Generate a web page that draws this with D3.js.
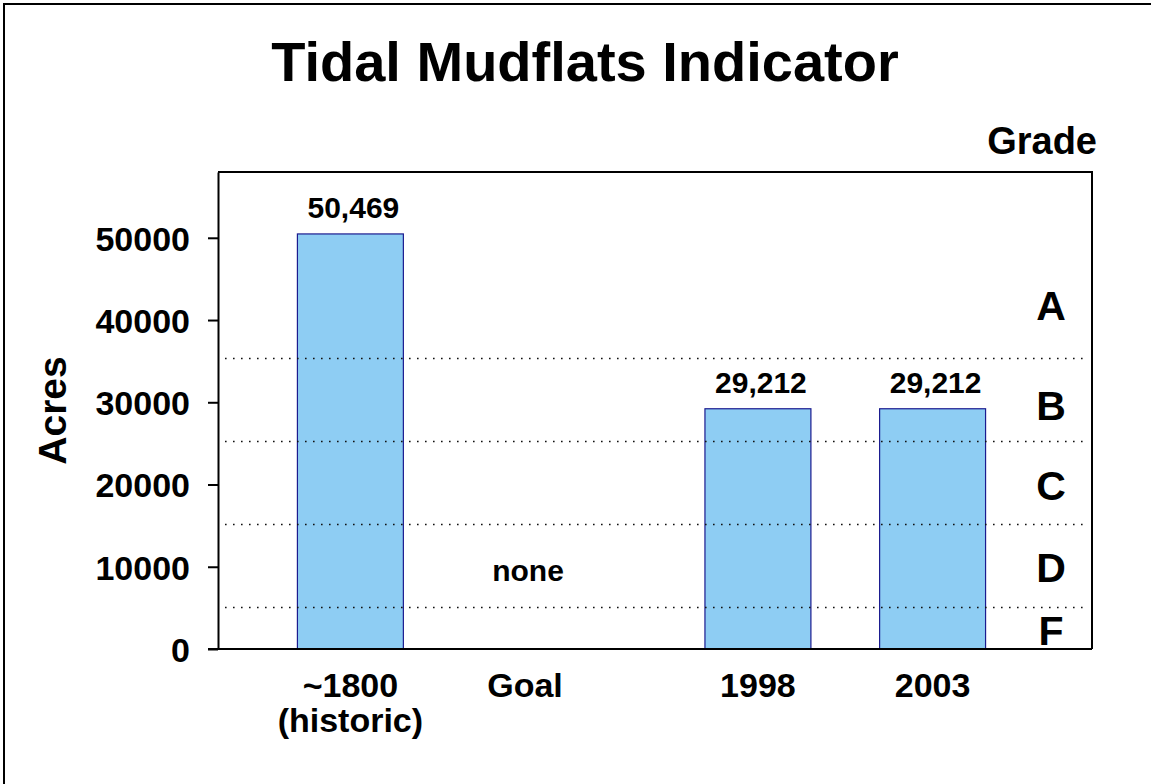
<!DOCTYPE html>
<html>
<head>
<meta charset="utf-8">
<script src="https://cdn.jsdelivr.net/npm/d3@7"></script>
<style>
  body { margin: 0; background: #fff; }
  text { font-family: "Liberation Sans", Arial, sans-serif; font-weight: bold; fill: #000; }
  .axis path, .axis line { stroke: #000; stroke-width: 2; }
  .bar { fill: #8ecdf3; stroke: #1b1b8f; stroke-width: 1.2; }
  .cut { stroke: #111; stroke-width: 1.6; stroke-dasharray: 1.6,6.4; }
</style>
</head>
<body>
<div id="chart"></div>
<script>
// data
var categories = ["~1800", "Goal", "1998", "2003"];
var subLabels = ["(historic)", "", "", ""];
var acres = [50469, null, 29212, 29212];
var valueLabels = ["50,469", "none", "29,212", "29,212"];
var yTicks = [0, 10000, 20000, 30000, 40000, 50000];
var gradeCuts = [35328, 25235, 15141, 5047];
var grades = ["A", "B", "C", "D", "F"];
var gradeCentres = [41800, 29600, 19900, 10000, 2300];

var margin = {top: 172, right: 59, bottom: 135, left: 218};
var width = 1151 - margin.left - margin.right;
var height = 784 - margin.top - margin.bottom;

var svg = d3.select("#chart")
  .append("svg")
  .attr("width", 1151)
  .attr("height", 784);

// outer frame (only left and top edges fall inside the picture)
svg.append("rect")
  .attr("x", 4).attr("y", 4)
  .attr("width", 1170).attr("height", 800)
  .attr("fill", "none")
  .attr("stroke", "#000")
  .attr("stroke-width", 2);

// categories sit on a point scale with empty slots between them
var xDomain = [categories[0], "gap1", "gap2", categories[1], "gap3", "gap4", "gap5", categories[2], "gap6", "gap7", categories[3]];
var x = d3.scalePoint()
  .domain(xDomain)
  .range([0, width])
  .padding(2.506)
  .align(0.4537);
var barWidth = x.step() * 1.82;

var y = d3.scaleLinear()
  .domain([0, 58000])
  .range([height, 0]);

var g = svg.append("g")
  .attr("transform", "translate(" + margin.left + "," + margin.top + ")");

// plot border (top and right)
g.append("path")
  .attr("d", "M0,0H" + width + "V" + height)
  .attr("fill", "none")
  .attr("stroke", "#000")
  .attr("stroke-width", 2);

// bars
g.selectAll(".bar")
  .data(categories.filter(function(d, i) { return acres[i] != null; }))
  .enter()
  .append("rect")
  .attr("class", "bar")
  .attr("x", function(d) { return x(d) - barWidth / 2; })
  .attr("y", function(d) { return y(acres[categories.indexOf(d)]); })
  .attr("width", barWidth)
  .attr("height", function(d) { return height - y(acres[categories.indexOf(d)]); });

// grade cut lines
g.selectAll(".cut")
  .data(gradeCuts)
  .enter()
  .append("line")
  .attr("class", "cut")
  .attr("x1", 7)
  .attr("x2", width - 4)
  .attr("y1", function(d) { return Math.round(y(d)) + 0.5; })
  .attr("y2", function(d) { return Math.round(y(d)) + 0.5; });

// y axis
var yAxis = g.append("g")
  .attr("class", "axis")
  .call(d3.axisLeft(y).tickValues(yTicks).tickSize(10).tickSizeOuter(0).tickPadding(18)
    .tickFormat(d3.format("d")));
yAxis.selectAll("text")
  .style("font-size", "34px")
  .attr("dy", "0.36em");

// x axis line
g.append("line")
  .attr("x1", -10).attr("x2", width)
  .attr("y1", height).attr("y2", height)
  .attr("stroke", "#000").attr("stroke-width", 2);

// category labels
var catLabel = g.selectAll(".cat")
  .data(categories)
  .enter()
  .append("text")
  .attr("class", "cat")
  .attr("text-anchor", "middle")
  .style("font-size", "34px")
  .attr("x", function(d) { return x(d); })
  .attr("y", height + 48);
catLabel.append("tspan")
  .text(function(d) { return d; });
catLabel.append("tspan")
  .attr("x", function(d) { return x(d); })
  .attr("dy", 35)
  .text(function(d, i) { return subLabels[i]; });

// value labels
g.selectAll(".label")
  .data(categories)
  .enter()
  .append("text")
  .attr("class", "label")
  .attr("text-anchor", "middle")
  .style("font-size", "30px")
  .attr("x", function(d) { return x(d) + 3; })
  .attr("y", function(d, i) {
    return acres[i] == null ? height - 68 : y(acres[i]) - 16;
  })
  .text(function(d, i) { return valueLabels[i]; });

// grade letters
g.selectAll(".grade")
  .data(grades)
  .enter()
  .append("text")
  .attr("class", "grade")
  .attr("text-anchor", "middle")
  .style("font-size", "41px")
  .attr("x", width - 41)
  .attr("y", function(d, i) { return y(gradeCentres[i]); })
  .attr("dy", "0.36em")
  .text(function(d) { return d; });

// titles
svg.append("text")
  .attr("x", 585)
  .attr("y", 81)
  .attr("text-anchor", "middle")
  .style("font-size", "56px")
  .text("Tidal Mudflats Indicator");

svg.append("text")
  .attr("x", 1097)
  .attr("y", 154)
  .attr("text-anchor", "end")
  .style("font-size", "38px")
  .text("Grade");

svg.append("text")
  .attr("transform", "translate(66," + (margin.top + height * 0.5) + ") rotate(-90)")
  .attr("text-anchor", "middle")
  .style("font-size", "39px")
  .text("Acres");
</script>
</body>
</html>
